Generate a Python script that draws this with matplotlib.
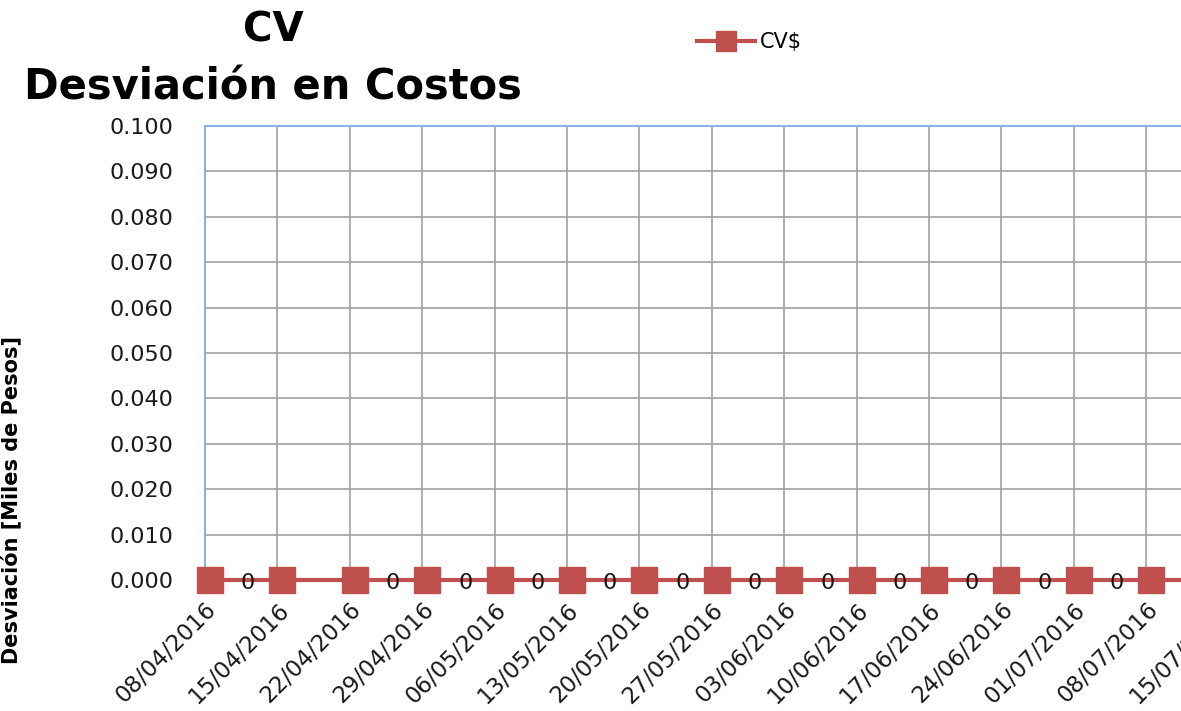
import numpy as np
import matplotlib.pyplot as plt
from matplotlib.transforms import ScaledTranslation

# weekly cut-off dates and CV values (thousands of pesos)
fechas = ["08/04/2016", "15/04/2016", "22/04/2016", "29/04/2016", "06/05/2016",
          "13/05/2016", "20/05/2016", "27/05/2016", "03/06/2016", "10/06/2016",
          "17/06/2016", "24/06/2016", "01/07/2016", "08/07/2016", "15/07/2016"]
cv = [0, 0, 0, 0, 0, 0, 0, 0, 0, 0, 0, 0, 0, 0, 0]
# data labels shown (Excel left the 15/04 one out)
etiquetas = ["0", "", "0", "0", "0", "0", "0", "0", "0", "0", "0", "0", "0", "0", "0"]
y_ticks = [0.0, 0.01, 0.02, 0.03, 0.04, 0.05, 0.06, 0.07, 0.08, 0.09, 0.1]

rojo = "#C0504D"
azul = "#8DB3E2"
gris = "#A0A0A0"
tinta = "#1a1a1a"
fuente = "DejaVu Sans"

W, H = 1181, 711
fig = plt.figure(figsize=(W / 100, H / 100), dpi=100)

# axes box in pixels; the right side runs off the canvas like the original
left, top, bottom, right = 205, 126, 580, 1240
ax = fig.add_axes([left / W, (H - bottom) / H, (right - left) / W, (bottom - top) / H])

x = np.arange(len(fechas))
paso = 72.4  # px per week
desfase = ScaledTranslation(5 / 100, 0, fig.dpi_scale_trans)

ax.plot(x, cv, color=rojo, lw=3, marker="s", markersize=19, label="CV$",
        clip_on=False, zorder=5, transform=ax.transData + desfase)

for xi, yi, t in zip(x, cv, etiquetas):
    if t:
        ax.annotate(t, (xi, yi), xytext=(31, -2), textcoords="offset points",
                    ha="center", va="center", fontsize=16, family=fuente,
                    color=tinta, annotation_clip=False, zorder=6)

ax.set_yticks(y_ticks)
ax.set_yticklabels(["%.3f" % v for v in y_ticks], fontsize=16, family=fuente,
                   color=tinta)
ax.set_xticks(x)
ax.set_xticklabels(fechas, rotation=45, ha="right", va="top",
                   rotation_mode="anchor", fontsize=16.5, family=fuente,
                   color=tinta)
ax.set_xlim(0, (right - left) / paso)
ax.set_ylim(0, 0.1)
ax.tick_params(axis="both", length=0)
ax.tick_params(axis="y", pad=23)
ax.tick_params(axis="x", pad=13)

ax.grid(True, color=gris, lw=1.2)
ax.set_axisbelow(True)
for s in ["bottom", "right"]:
    ax.spines[s].set_visible(False)
for s in ["left", "top"]:
    ax.spines[s].set_color(azul)
    ax.spines[s].set_linewidth(1.5)

ax.set_ylabel("Desviación [Miles de Pesos]", fontsize=15, fontweight="bold",
              family=fuente)
ax.yaxis.set_label_coords((22 - left) / (right - left), (bottom - 500) / (bottom - top))

fig.text(273 / W, 1 - 42 / H, "CV", ha="center", va="baseline",
         fontsize=29, fontweight="bold", family=fuente)
fig.text(273 / W, 1 - 99 / H, "Desviación en Costos", ha="center", va="baseline",
         fontsize=30, fontweight="bold", family=fuente)

fig.legend(loc="center left", bbox_to_anchor=(0.574, 1 - 42 / H), frameon=False,
           prop={"family": fuente, "size": 15}, handlelength=2.8,
           handletextpad=0.25, markerscale=0.75)

fig.savefig("out.png", dpi=100)
